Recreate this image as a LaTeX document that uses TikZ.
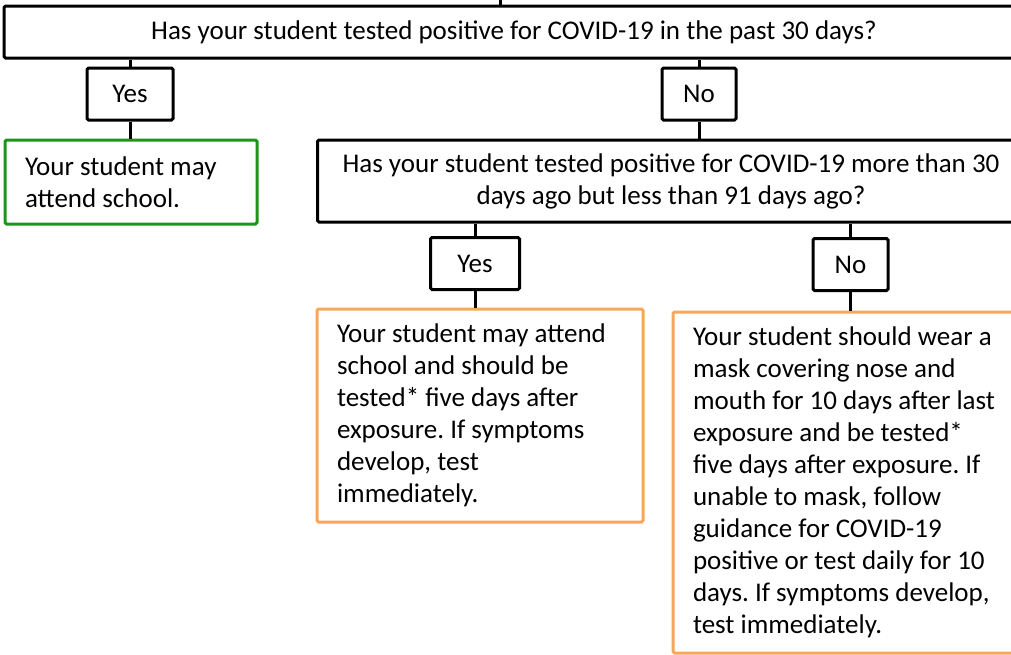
\documentclass[tikz,border=0pt]{standalone}
\usepackage{fontspec}
\setmainfont{Carlito}
\definecolor{okgreen}{RGB}{26,150,26}
\definecolor{warnorange}{RGB}{248,166,88}
\begin{document}
\begin{tikzpicture}[x=1pt, y=-1pt,
    box/.style={draw, line width=3pt, rounded corners=1.5pt, inner sep=0pt,
        font=\fontsize{27}{32}\selectfont\frenchspacing},
    answer/.style={box, minimum height=52pt},
    result/.style={box, align=flush left, inner xsep=20pt},
    link/.style={line width=3pt}]
    \useasboundingbox (0,0) rectangle (1011,654);
    \coordinate (in) at (500,-10);
    \node[box, minimum width=1020pt, minimum height=52pt] (q1) at (514,32)
        {Has your student tested positive for COVID-19 in the past 30 days?};
    \node[answer, minimum width=86pt] (yes1) at (130,94) {Yes};
    \node[answer, minimum width=74pt] (no1) at (699,94) {No};
    \node[result, draw=okgreen, text width=212pt, minimum height=84pt] (attend) at (131,182)
        {Your student may\\attend school.};
    \node[box, align=center, minimum width=707pt, minimum height=82pt] (q2) at (671,181)
        {Has your student tested positive for COVID-19 more than 30\\days ago but less than 91 days ago?};
    \node[answer, minimum width=89pt] (yes2) at (475,263.5) {Yes};
    \node[answer, minimum width=75pt] (no2) at (850.5,264.5) {No};
    \node[result, draw=warnorange, text width=286pt, minimum height=213pt] (test) at (480,415.5)
        {Your student may attend\\school and should be\\tested* five days after\\exposure. If symptoms\\develop, test\\immediately.};
    \node[result, draw=warnorange, text width=320pt, minimum height=341pt] (mask) at (853,482.5)
        {Your student should wear a\\mask covering nose and\\mouth for 10 days after last\\exposure and be tested*\\five days after exposure. If\\unable to mask, follow\\guidance for COVID-19\\positive or test daily for 10\\days. If symptoms develop,\\test immediately.};
    \draw[link] (in) -- (in |- q1.north);
    \draw[link] (yes1.north |- q1.south) -- (yes1.north);
    \draw[link] (no1.north |- q1.south) -- (no1.north);
    \draw[link] (yes1.south) -- (yes1.south |- attend.north);
    \draw[link] (no1.south) -- (no1.south |- q2.north);
    \draw[link] (yes2.north |- q2.south) -- (yes2.north);
    \draw[link] (no2.north |- q2.south) -- (no2.north);
    \draw[link] (yes2.south) -- (yes2.south |- test.north);
    \draw[link] (no2.south) -- (no2.south |- mask.north);
\end{tikzpicture}
\end{document}
